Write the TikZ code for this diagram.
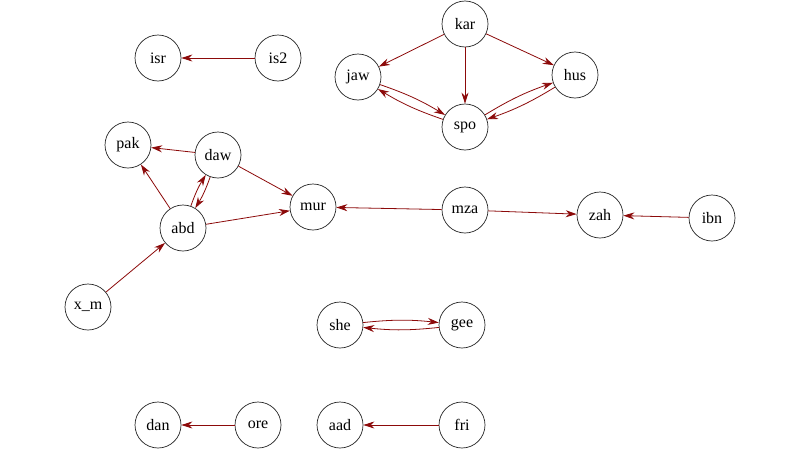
\documentclass[tikz,border=0pt]{standalone}
\usepackage{fontspec}
\setmainfont{Liberation Serif}
\usetikzlibrary{arrows.meta}
\definecolor{edgered}{RGB}{140,10,10}
\tikzset{
  vert/.style={circle,draw=black!85,fill=white,minimum size=46pt,inner sep=0pt,line width=0.7pt,font=\fontsize{16}{18}\selectfont},
  edge/.style={draw=edgered,line width=0.8pt,-{Stealth[length=11pt,width=7pt,fill=edgered]}},
}
\begin{document}
\begin{tikzpicture}[x=1pt,y=-1pt]
\useasboundingbox[fill=white] (0,0) rectangle (800,450);
\node[vert] (isr) at (158,58) {isr};
\node[vert] (is2) at (278,58) {is2};
\node[vert] (kar) at (465,24) {kar};
\node[vert] (jaw) at (358,77) {jaw};
\node[vert] (hus) at (575,75) {hus};
\node[vert] (spo) at (465,127) {spo};
\node[vert] (pak) at (128,145) {pak};
\node[vert] (daw) at (218,155) {daw};
\node[vert] (mur) at (313,207) {mur};
\node[vert] (abd) at (183,228) {abd};
\node[vert] (mza) at (465,210) {mza};
\node[vert] (zah) at (600,215) {zah};
\node[vert] (ibn) at (712,218) {ibn};
\node[vert] (xm) at (88,307) {x\_m};
\node[vert] (she) at (340,325) {she};
\node[vert] (gee) at (462,325) {gee};
\node[vert] (dan) at (158,425) {dan};
\node[vert] (ore) at (258,425) {ore};
\node[vert] (aad) at (340,425) {aad};
\node[vert] (fri) at (462,425) {fri};
\draw[edge] (is2) -- (isr);
\draw[edge] (kar) -- (jaw);
\draw[edge] (kar) -- (spo);
\draw[edge] (kar) -- (hus);
\draw[edge] (jaw) to[bend left=6] (spo);
\draw[edge] (spo) to[bend left=6] (jaw);
\draw[edge] (hus) to[bend left=6] (spo);
\draw[edge] (spo) to[bend left=6] (hus);
\draw[edge] (daw) -- (pak);
\draw[edge] (abd) -- (pak);
\draw[edge] (daw) to[bend left=6] (abd);
\draw[edge] (abd) to[bend left=6] (daw);
\draw[edge] (daw) -- (mur);
\draw[edge] (abd) -- (mur);
\draw[edge] (xm) -- (abd);
\draw[edge] (mza) -- (mur);
\draw[edge] (mza) -- (zah);
\draw[edge] (ibn) -- (zah);
\draw[edge] (she) to[bend left=6] (gee);
\draw[edge] (gee) to[bend left=6] (she);
\draw[edge] (ore) -- (dan);
\draw[edge] (fri) -- (aad);
\end{tikzpicture}
\end{document}
